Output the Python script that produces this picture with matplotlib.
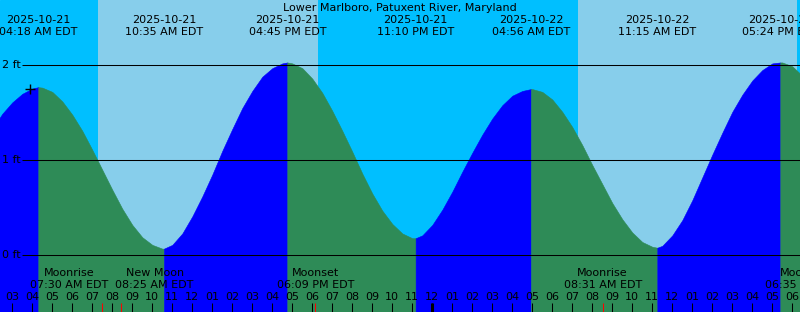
import numpy as np
import matplotlib
matplotlib.use("Agg")
import matplotlib.pyplot as plt

# tide level every half hour (hours since 2025-10-21 00:00 EDT)
sample_hours = np.arange(2.0, 42.51, 0.5)
sample_ft = [1.33, 1.49, 1.61, 1.70, 1.755,
             1.765, 1.72, 1.62, 1.48, 1.31, 1.11, 0.90, 0.69, 0.49, 0.32, 0.19, 0.11, 0.07,
             0.11, 0.23, 0.41, 0.62, 0.85, 1.10, 1.33, 1.55, 1.73, 1.88, 1.97, 2.02,
             2.02, 1.97, 1.86, 1.71, 1.52, 1.31, 1.09, 0.86, 0.65, 0.47, 0.33, 0.23, 0.18,
             0.21, 0.32, 0.48, 0.67, 0.88, 1.08, 1.27, 1.44, 1.58, 1.68, 1.73,
             1.75, 1.72, 1.64, 1.51, 1.35, 1.16, 0.95, 0.75, 0.55, 0.38, 0.24, 0.14, 0.09,
             0.10, 0.21, 0.37, 0.58, 0.82, 1.06, 1.29, 1.51, 1.69, 1.84, 1.95, 2.02,
             2.03, 1.99, 1.89]

# high / low tides
tide_hours = [4.30, 10.583, 16.75, 23.167, 28.933, 35.25, 41.40]
tide_ft = [1.77, 0.07, 2.03, 0.18, 1.75, 0.08, 2.03]
tide_dates = ["2025-10-21", "2025-10-21", "2025-10-21", "2025-10-21",
              "2025-10-22", "2025-10-22", "2025-10-22"]
tide_times = ["04:18 AM EDT", "10:35 AM EDT", "04:45 PM EDT", "11:10 PM EDT",
              "04:56 AM EDT", "11:15 AM EDT", "05:24 PM EDT"]

# daylight (sunrise, sunset)
daylight = [(7.285, 18.285), (31.30, 42.26)]

# moon events
moon_hours = [7.50, 8.417, 18.15, 32.517, 42.583]
moon_names = ["Moonrise", "New Moon", "Moonset", "Moonrise", "Moonset"]
moon_times = ["07:30 AM EDT", "08:25 AM EDT", "06:09 PM EDT", "08:31 AM EDT", "06:35 PM EDT"]
moon_shift_px = [-33, 34, 0, 0, 0]

levels = [0, 1, 2]
now_hour, now_ft = 3.9, 1.75

title = "Lower Marlboro, Patuxent River, Maryland"

NIGHT = "#00BFFF"
DAY = "#87CEEB"
RISING = "#0000FF"
FALLING = "#2E8B57"

plt.rcParams['font.family'] = ['DejaVu Sans']
FS = 8

W, H = 800, 312
x0 = 3 - 12.3 / 20          # hours at left edge (20 px per hour)
ppf = 95.0                  # pixels per foot
zero_px = 255.3             # pixel row of 0 ft


def ypx(p):
    return (zero_px - p) / ppf


fig = plt.figure(figsize=(W / 100, H / 100), dpi=100)
ax = fig.add_axes([0, 0, 1, 1])
ax.set_xlim(x0, x0 + W / 20)
ax.set_ylim(ypx(H), ypx(0))
ax.axis("off")
ax.add_patch(plt.Rectangle((x0, ypx(H)), W / 20, H / ppf, color=NIGHT, zorder=0))
for a, b in daylight:
    ax.axvspan(a, b, color=DAY, lw=0, zorder=1)

# tide curve, coloured by rising / falling
t = np.concatenate([sample_hours, tide_hours])
h = np.concatenate([sample_ft, tide_ft])
order = np.argsort(t)
t, h = t[order], h[order]
bounds = [t[0]] + tide_hours + [t[-1]]
bottom = ypx(H) - 0.1
for a, b in zip(bounds[:-1], bounds[1:]):
    m = (t >= a) & (t <= b)
    hs = h[m]
    col = RISING if hs[-1] > hs[0] else FALLING
    ax.fill_between(t[m], hs, bottom, color=col, ec=col, lw=0.4, zorder=2)

# level lines
ax.hlines(levels, x0 + 22 / 20, x0 + W / 20, colors="black", lw=0.75, zorder=3)
for lv in levels:
    ax.text(x0 + 20.5 / 20, lv, f"{lv} ft", ha="right", va="center", fontsize=FS, zorder=4)

ax.plot(now_hour, now_ft, marker="+", ms=7, mew=1.0, color="black", zorder=4)

# title and tide labels
ax.text(x0 + 400 / 20, ypx(7.5), title, ha="center", va="center", fontsize=FS)
for th, d, tm in zip(tide_hours, tide_dates, tide_times):
    ax.text(th, ypx(20), d, ha="center", va="center", fontsize=FS)
    ax.text(th, ypx(32), tm, ha="center", va="center", fontsize=FS)

# moon labels
for mh, nm, tm, sh in zip(moon_hours, moon_names, moon_times, moon_shift_px):
    ax.text(mh + sh / 20, ypx(273), nm, ha="center", va="center", fontsize=FS, zorder=4)
    ax.text(mh + sh / 20, ypx(285), tm, ha="center", va="center", fontsize=FS, zorder=4)

# hour ticks along the bottom
hours = np.arange(3, 43)
ax.vlines(hours, ypx(H), ypx(303), colors="black", lw=0.75, zorder=4)
ax.vlines([24], ypx(H), ypx(303), colors="black", lw=2.2, zorder=4)
ax.vlines(moon_hours, ypx(H), ypx(303), colors="red", lw=0.75, zorder=5)
for hr in hours:
    lab = f"{(hr % 12) or 12:02d}"
    ax.text(hr, ypx(297.5), lab, ha="center", va="center", fontsize=FS, zorder=4)

fig.savefig("out.png", dpi=100)
